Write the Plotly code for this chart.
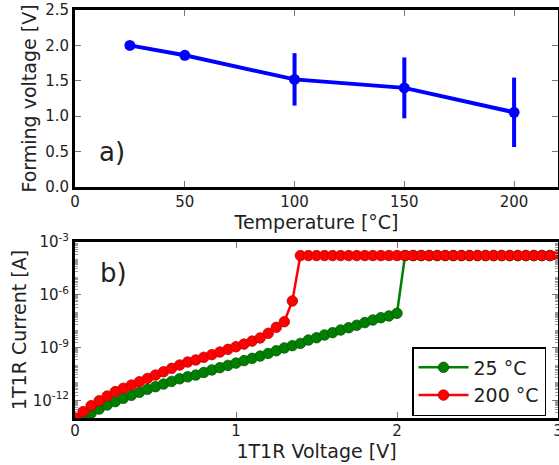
import plotly.graph_objects as go

# ---- Panel a) data ----
temps = [25, 50, 100, 150, 200]
forming_v = [2.0, 1.86, 1.52, 1.40, 1.055]
forming_err = [0.0, 0.0, 0.37, 0.43, 0.49]

# ---- Panel b) data ----
v25 = [round(0.05 * i, 2) for i in range(61)]
log_i25 = [-13.2, -12.97, -12.73, -12.49, -12.26, -12.07, -11.88, -11.71, -11.54, -11.37,
           -11.22, -11.07, -10.92, -10.77, -10.66, -10.56, -10.41, -10.27, -10.14, -10.01,
           -9.88, -9.74, -9.61, -9.48, -9.33, -9.18, -9.02, -8.89, -8.76, -8.57,
           -8.44, -8.28, -8.15, -8.0, -7.87, -7.73, -7.58, -7.43, -7.30, -7.20,
           -7.05] + [-3.77] * 20
v200 = [round(0.05 * i, 2) for i in range(61)]
log_i200 = [-12.95, -12.64, -12.30, -12.02, -11.75, -11.5, -11.31, -11.13, -10.94, -10.75,
            -10.56, -10.37, -10.18, -9.99, -9.82, -9.70, -9.55, -9.40, -9.25, -9.10,
            -8.95, -8.80, -8.63, -8.45, -8.19, -7.85, -7.53, -6.35] + [-3.77] * 33
i25 = [10 ** v for v in log_i25]
i200 = [10 ** v for v in log_i200]

ytick_vals = [1e-12, 1e-9, 1e-6, 1e-3]
ytick_text = ["10<sup>-12</sup>", "10<sup>-9</sup>", "10<sup>-6</sup>", "10<sup>-3</sup>"]

FONT = "DejaVu Sans"
TXT = "#222222"
TICK_SIZE = 15
TITLE_SIZE = 19

fig = go.Figure()

fig.add_trace(go.Scatter(
    x=temps, y=forming_v, mode="lines+markers",
    line=dict(color="#0000ff", width=4),
    marker=dict(color="#0000ff", size=11),
    error_y=dict(type="data", array=forming_err, thickness=4, width=0, color="#0000ff"),
    showlegend=False, xaxis="x", yaxis="y"))

fig.add_trace(go.Scatter(
    x=v25, y=i25, mode="lines+markers", name="25 °C",
    line=dict(color="#008000", width=2.5),
    marker=dict(color="#008000", size=10.5, line=dict(color="#005500", width=0.8)),
    xaxis="x2", yaxis="y2"))
fig.add_trace(go.Scatter(
    x=v200, y=i200, mode="lines+markers", name="200 °C",
    line=dict(color="#ff0000", width=2.5),
    marker=dict(color="#ff0000", size=10.5, line=dict(color="#bb0000", width=0.8)),
    xaxis="x2", yaxis="y2"))

W, H = 559, 465
xdom = [75 / W, 558 / W]
axis_common = dict(
    showline=True, linecolor="black", linewidth=3, mirror="ticks",
    ticks="inside", ticklen=6, tickwidth=1, tickcolor="#777777",
    showgrid=False, zeroline=False, automargin=False,
    ticklabeloverflow="allow",
    tickfont=dict(family=FONT, size=TICK_SIZE, color=TXT),
)

fig.update_layout(
    width=W, height=H,
    margin=dict(l=0, r=0, t=0, b=0),
    paper_bgcolor="white", plot_bgcolor="white",
    font=dict(family=FONT, color=TXT),
    xaxis=dict(domain=xdom, anchor="y", range=[0, 220],
               tickvals=[0, 50, 100, 150, 200], ticklabelstandoff=-1,
               title=dict(text="Temperature [°C]", font=dict(size=TITLE_SIZE, family=FONT, color=TXT), standoff=0),
               **axis_common),
    yaxis=dict(domain=[(H - 187) / H, (H - 10) / H], anchor="x", range=[0, 2.5],
               tickvals=[0, 0.5, 1.0, 1.5, 2.0, 2.5], tickformat=".1f",
               title=dict(text="Forming voltage [V]", font=dict(size=TITLE_SIZE, family=FONT, color=TXT), standoff=4),
               **axis_common),
    xaxis2=dict(domain=xdom, anchor="y2", range=[0, 3],
                tickvals=[0, 1, 2, 3], ticklabelstandoff=-3,
                title=dict(text="1T1R Voltage [V]", font=dict(size=TITLE_SIZE, family=FONT, color=TXT), standoff=1),
                **axis_common),
    yaxis2=dict(domain=[(H - 418) / H, (H - 242) / H], anchor="x2", type="log",
                range=[-13, -3], tickvals=ytick_vals, ticktext=ytick_text,
                minor=dict(ticks="inside", ticklen=3, tickcolor="#999999", dtick="D1"),
                title=dict(text="1T1R Current [A]", font=dict(size=TITLE_SIZE, family=FONT, color=TXT), standoff=2),
                **axis_common),
    legend=dict(x=412 / W, y=(H - 347) / H, xanchor="left", yanchor="top",
                bgcolor="white", bordercolor="black", borderwidth=1.5,
                font=dict(family=FONT, size=19, color=TXT),
                itemwidth=50),
    annotations=[
        dict(text="a)", x=10, y=0.49, xref="x", yref="y", xanchor="left", yanchor="middle",
             showarrow=False, font=dict(family=FONT, size=26, color=TXT)),
        dict(text="b)", x=0.14, y=-4.76, xref="x2", yref="y2", xanchor="left", yanchor="middle",
             showarrow=False, font=dict(family=FONT, size=26, color=TXT)),
    ],
)

fig.write_html("out.html",
               config={"displayModeBar": False},
               post_script="document.body.style.margin='0px';document.body.style.overflow='hidden';")
